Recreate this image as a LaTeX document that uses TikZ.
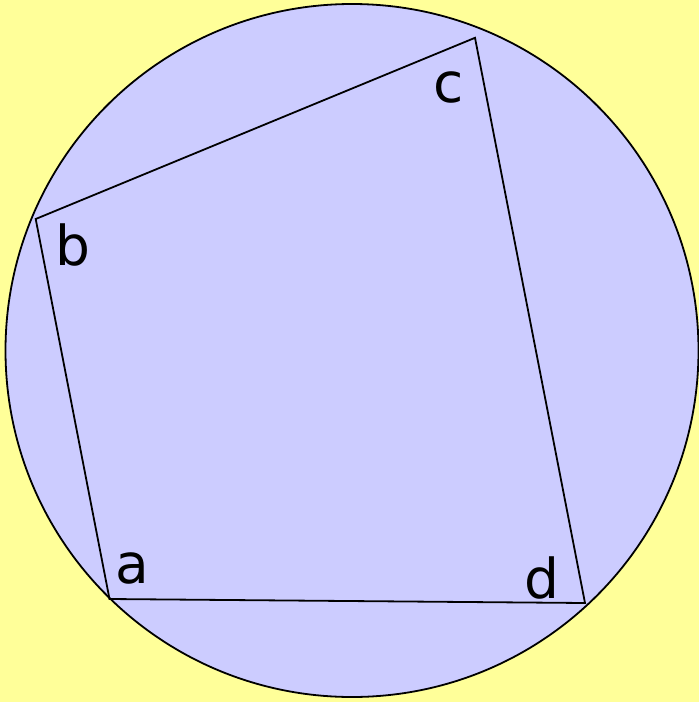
\documentclass[tikz,border=0pt]{standalone}
\usepackage{fontspec}
\setmainfont{DejaVu Sans}
\definecolor{bgyellow}{RGB}{255,255,153}
\definecolor{discblue}{RGB}{204,204,255}
\tikzset{
  vlabel/.style={font=\fontsize{55}{60}\selectfont, anchor=base, inner sep=0pt, text=black},
  edge/.style={draw=black, line width=1.8pt, line join=miter},
}
\begin{document}
\begin{tikzpicture}[x=1pt,y=-1pt]
  \fill[bgyellow] (0,0) rectangle (699,702);
  \useasboundingbox (0,0) rectangle (699,702);
  \filldraw[fill=discblue, draw=black, line width=1.8pt] (352,350.5) circle[radius=346.5];
  \coordinate (A) at (109.5,599);
  \coordinate (B) at (35.7,219);
  \coordinate (C) at (475,37.8);
  \coordinate (D) at (585,603);
  \draw[edge] (A) -- (B) -- (C) -- (D) -- cycle;
  \node[vlabel] (la) at (132,583) {a};
  \node[vlabel] (lb) at (73,265) {b};
  \node[vlabel] (lc) at (449,102) {c};
  \node[vlabel] (ld) at (542,598) {d};
\end{tikzpicture}
\end{document}
